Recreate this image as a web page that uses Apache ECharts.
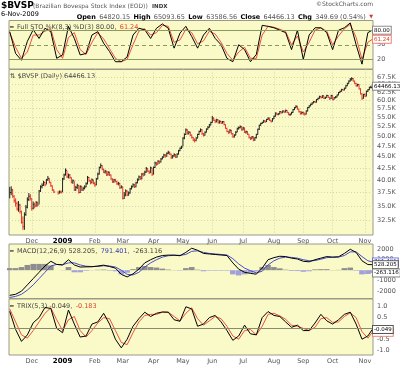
<!DOCTYPE html>
<html><head><meta charset="utf-8">
<script src="https://cdn.jsdelivr.net/npm/echarts@6/dist/echarts.min.js"></script>
<style>html,body{margin:0;padding:0;background:#fff}#c{width:400px;height:365px}</style>
</head><body><div id="c"></div>
<script>
const N = 248;
const monthIdx = [15,36,58,77,98,118,138,159,180,200,220,242];
const monthLabels = ['Dec','2009','Feb','Mar','Apr','May','Jun','Jul','Aug','Sep','Oct','Nov'];
const priceTicks = [32.5,35,37.5,40,42.5,45,47.5,50,52.5,55,57.5,60,62.5,65,67.5];
const closeK = [
37.5,38.0,36.8,36.0,35.5,34.5,35.2,34.0,32.2,31.5,33.5,34.8,36.2,36.8,36.4,
34.6,35.3,35.0,35.6,35.2,37.8,38.6,38.9,39.5,39.0,40.0,40.3,39.5,38.8,38.0,37.6,null,null,37.4,37.6,37.55,
40.2,41.0,42.0,40.6,41.0,40.5,39.5,39.8,38.0,38.5,38.9,37.5,38.7,38.0,38.3,38.6,39.2,40.5,39.8,39.4,40.0,39.3,
39.0,40.2,41.2,42.6,43.0,42.2,41.6,41.8,41.0,41.6,41.0,40.2,39.6,40.0,39.7,39.2,39.3,38.4,38.6,
36.4,37.0,37.8,37.0,37.4,38.2,38.6,39.0,38.6,39.4,40.0,40.6,40.2,41.2,41.0,41.6,42.4,41.8,41.5,42.5,41.2,
42.6,43.6,43.3,44.0,43.8,44.5,44.9,45.4,45.1,45.8,46.0,45.6,44.8,45.2,45.5,44.9,45.6,46.4,47.0,47.3,
49.5,50.4,51.6,50.6,51.0,50.2,49.6,49.0,48.9,49.5,50.4,51.2,51.6,50.6,50.2,51.0,51.8,52.3,52.9,53.6,
54.8,54.2,53.8,54.3,53.5,53.9,53.4,53.8,53.0,52.0,51.2,50.8,51.5,50.6,49.8,50.2,51.0,51.9,52.2,52.5,51.6,
52.1,51.0,51.2,50.5,49.6,49.3,49.8,49.0,49.6,50.4,51.8,52.8,53.3,53.6,54.0,53.8,54.4,54.8,54.2,53.8,54.6,
55.3,56.2,55.8,56.0,56.6,56.3,56.8,56.5,57.0,56.4,55.8,55.9,56.4,57.2,57.8,58.2,57.4,56.6,56.0,56.4,
56.2,55.9,56.8,57.8,58.3,58.8,59.2,59.6,59.4,60.2,60.6,61.2,60.8,61.4,60.6,60.9,61.5,60.9,60.5,61.5,
60.2,60.8,61.0,61.6,62.4,62.8,63.4,63.2,63.8,64.6,65.4,66.2,66.8,67.0,66.2,65.4,64.6,65.0,63.6,62.0,60.6,61.8,
61.3,62.8,63.3,64.1,64.1,64.47];
const highK = [
38.6,38.7,38.2,37.0,36.4,35.8,35.9,35.4,34.2,33.2,33.9,35.2,36.6,37.4,37.2,
36.4,35.8,35.6,35.9,35.8,38.0,38.9,39.3,39.8,39.6,40.2,40.8,40.3,39.6,38.9,38.1,null,null,37.8,37.9,37.9,
40.4,41.3,42.4,41.9,41.3,41.2,40.5,40.1,39.7,38.8,39.2,38.9,38.9,38.8,38.6,38.9,39.5,40.8,40.6,40.0,40.3,40.0,
39.6,40.4,41.5,42.8,43.5,43.1,42.4,42.1,41.9,41.8,41.7,41.1,40.3,40.2,40.2,39.8,39.6,39.4,38.9,
38.6,37.6,38.1,37.9,37.7,38.4,38.9,39.3,39.2,39.6,40.3,40.9,40.8,41.4,41.5,41.9,42.7,42.5,42.0,42.8,42.5,
42.8,43.9,43.8,44.2,44.1,44.7,45.1,45.7,45.6,46.0,46.4,46.2,45.7,45.4,45.8,45.6,45.8,46.6,47.2,47.6,
49.7,50.7,52.0,51.8,51.3,51.1,50.4,49.8,49.4,49.7,50.6,51.4,52.0,51.8,50.8,51.2,52.0,52.6,53.2,53.8,
55.4,55.0,54.4,54.6,54.4,54.2,54.0,54.0,53.9,53.1,52.2,51.4,51.8,51.6,50.8,50.5,51.3,52.2,52.5,52.8,52.6,
52.4,52.2,51.4,51.2,50.5,49.8,50.0,49.9,49.7,50.6,51.9,53.0,53.5,53.8,54.3,54.2,54.6,55.0,54.9,54.3,54.8,
55.5,56.4,56.3,56.2,56.8,56.7,57.0,56.9,57.2,57.0,56.5,56.1,56.6,57.4,58.0,58.5,58.3,57.5,56.8,56.7,
56.6,56.3,57.0,58.0,58.5,59.0,59.4,59.8,59.8,60.4,60.8,61.4,61.3,61.6,61.4,61.1,61.7,61.6,61.0,61.7,
61.5,61.0,61.3,61.8,62.6,63.0,63.6,63.6,64.0,64.8,65.6,66.4,67.2,67.5,67.2,66.3,65.6,65.3,65.1,63.8,62.2,62.0,
62.2,63.0,63.5,64.3,64.6,65.09];
const lowK = [
36.4,37.0,36.5,35.6,34.9,34.2,34.0,33.7,32.0,31.0,31.0,33.3,34.6,35.9,36.0,
34.2,34.4,34.6,34.9,34.9,35.3,37.6,38.3,38.8,38.7,39.1,39.8,39.3,38.6,37.8,37.4,null,null,37.1,37.3,37.3,
37.6,40.0,40.9,40.4,40.3,40.2,39.3,39.2,37.8,37.8,38.2,37.3,37.4,37.8,37.8,38.1,38.5,39.1,39.6,39.1,39.3,39.1,
38.6,38.9,40.1,41.1,42.4,42.0,41.4,41.3,40.8,40.9,40.8,40.0,39.4,39.4,39.5,39.0,38.9,38.2,38.3,
36.2,36.3,36.8,36.8,36.9,37.3,38.1,38.5,38.4,38.5,39.3,39.9,40.0,40.1,40.7,40.9,41.5,41.6,41.2,41.4,40.8,
41.1,42.5,43.0,43.3,43.4,43.7,44.4,44.8,44.8,45.0,45.6,45.4,44.5,44.6,45.0,44.7,44.8,45.5,46.3,46.8,
47.5,49.2,50.3,50.4,50.4,50.0,49.4,48.7,48.4,48.7,49.4,50.3,51.0,50.3,49.9,50.1,50.9,51.7,52.2,52.8,
53.5,54.0,53.4,53.6,53.3,53.3,53.2,53.3,52.8,51.9,51.0,50.6,50.8,50.4,49.6,49.6,50.2,51.0,51.7,52.0,51.4,
51.5,50.8,50.6,50.3,49.4,49.0,49.2,48.7,48.8,49.4,50.4,51.6,52.7,53.2,53.5,53.5,53.7,54.3,54.0,53.6,53.8,
54.5,55.2,55.6,55.6,55.9,56.1,56.2,56.3,56.4,56.2,55.6,55.4,55.8,56.3,57.1,57.6,57.2,56.4,55.8,55.9,
55.7,55.5,55.8,56.7,57.7,58.2,58.6,59.1,59.2,59.3,60.1,60.5,60.6,60.7,60.4,60.4,60.8,60.8,60.1,60.4,
60.0,60.2,60.6,60.9,61.6,62.3,62.7,63.0,63.1,63.7,64.5,65.3,66.0,66.3,66.0,65.2,64.3,64.4,63.4,61.8,60.1,60.5,
61.0,61.2,62.6,63.2,63.8,63.59];

const indIdx = [0,4,8,12,16,20,24,28,32,36,40,44,48,52,56,60,64,68,72,76,80,84,88,92,96,100,104,108,112,116,120,124,128,132,136,140,144,148,152,156,160,164,168,172,176,180,184,188,192,196,200,204,208,212,216,220,224,228,232,236,240,244,247];
const stoK = [77,32,18,57,81,63,84,77,22,29,88,63,29,32,70,77,53,36,15,15,25,70,84,81,63,84,93,84,43,74,88,67,43,70,84,63,50,22,15,50,40,15,30,90,88,85,80,75,40,80,20,70,85,85,75,40,80,85,95,50,10,75,80];
const stoD = [75,45,22,35,70,70,78,82,40,22,65,75,40,30,55,75,62,42,22,15,20,50,78,83,70,75,90,88,55,60,82,75,52,58,78,72,55,32,18,35,45,22,22,70,88,86,82,77,50,68,35,55,80,85,78,50,68,83,92,65,20,55,61.24];
const macdLine = [-2400,-2300,-2000,-1400,-800,-200,400,850,550,500,1000,500,300,320,330,400,480,350,200,-400,-640,-350,100,700,1000,1250,1400,1440,1440,1380,1700,2100,1900,1600,1550,1500,1450,1400,700,100,-200,-300,-380,200,1000,1200,1330,1300,1150,1070,850,800,1000,1150,1300,1250,1280,1600,2000,1700,900,540,528.205];
const macdSignal = [-2600,-2500,-2300,-1900,-1400,-800,-200,400,550,520,700,700,500,380,350,360,420,400,300,0,-400,-450,-200,300,700,1000,1250,1380,1420,1420,1500,1800,1850,1700,1600,1550,1500,1450,1100,600,200,-50,-250,-100,500,900,1150,1250,1220,1150,1000,900,920,1050,1200,1230,1250,1400,1750,1750,1300,900,791.401];
const macdHist = [200,200,300,500,600,600,600,450,0,-20,300,-200,-200,-60,-20,40,60,-50,-100,-400,-240,100,300,400,300,250,150,60,20,-40,200,300,50,-100,-50,-50,-50,-50,-400,-500,-400,-250,-130,300,500,300,180,50,-70,-80,-150,-100,80,100,100,20,30,200,250,-50,-400,-360,-263.116];
const trixLine = [0.79,-0.05,-0.6,-0.3,0.26,0.5,0.97,0.92,0.0,-0.2,0.85,0.2,-0.4,-0.35,0.2,0.3,0.7,0.2,-0.5,-0.9,-0.5,0.1,0.45,0.75,0.55,0.7,0.76,0.75,0.4,0.33,1.0,0.9,0.1,0.2,0.5,0.6,0.3,-0.1,-0.55,-0.35,0.15,-0.25,-0.3,0.5,0.78,0.6,0.55,0.3,0.05,0.15,-0.1,-0.1,0.25,0.65,0.35,0.2,0.4,0.65,0.75,0.2,-0.5,-0.35,-0.049];
const trixSignal = [0.9,0.3,-0.3,-0.45,-0.1,0.3,0.7,0.95,0.4,-0.1,0.4,0.55,-0.1,-0.4,-0.1,0.25,0.5,0.45,-0.1,-0.65,-0.75,-0.2,0.3,0.6,0.65,0.65,0.75,0.75,0.55,0.35,0.7,0.95,0.45,0.15,0.35,0.55,0.45,0.1,-0.35,-0.5,-0.1,-0.05,-0.3,0.1,0.65,0.7,0.58,0.42,0.15,0.1,0.0,-0.1,0.05,0.45,0.5,0.28,0.3,0.55,0.72,0.5,-0.15,-0.45,-0.183];
// last-value boxes on the right axes: [yAxisIndex, value, text, textColor, borderColor]
const valueBoxes = [
  [0, 80, '80.00', '#000', '#888'],
  [0, 61.24, '61.24', '#e0402c', '#f08070'],
  [1, 64.466, '64466.13', '#000', '#888'],
  [2, 791.401, '791.401', '#3a3ac0', '#7070d8'],
  [2, 528.205, '528.205', '#000', '#555'],
  [2, -263.116, '-263.116', '#000', '#888'],
  [3, -0.183, '-0.183', '#e0402c', '#f08070'],
  [3, -0.049, '-0.049', '#000', '#555']
];

const FONT = 'DejaVu Sans';
const BG = '#fafac8';
const BORDER = '#9a9a88';
const GRIDC = '#d6d6a6';
const L = 9, R = 27;

const pairs = arr => indIdx.map((x, j) => [x, arr[j]]);
let prev = null;
const ohlc = closeK.map((c, i) => {
  if (c == null) return [i, null, null, null, 0];
  const up = prev == null || c >= prev ? 1 : 0;
  prev = c;
  return [i, c, highK[i], lowK[i], up];
});

function xAxis(gi, labels, vgrid) {
  return {
    type: 'value', gridIndex: gi, min: -0.5, max: N - 0.5,
    axisLine: { show: false },
    axisTick: { show: false, customValues: monthIdx },
    splitLine: { show: vgrid, lineStyle: { color: GRIDC, type: [1, 2], width: 1 } },
    axisLabel: {
      show: labels, customValues: monthIdx, margin: 3, fontSize: 6.5, fontFamily: FONT, color: '#555',
      formatter: v => { const t = monthLabels[monthIdx.indexOf(v)]; return t === '2009' ? '{y|2009}' : t; },
      rich: { y: { fontWeight: 'bold', color: '#000', fontSize: 7, fontFamily: FONT } }
    }
  };
}
function yBase(gi, extra) {
  return Object.assign({
    gridIndex: gi, position: 'right', axisLine: { show: false }, axisTick: { show: false },
    splitLine: { show: false }
  }, extra);
}
const axLabel = (vals, fmt) => ({ customValues: vals, margin: 4, fontSize: 6.5, fontFamily: FONT, color: '#555', formatter: fmt });

const baseGraphic = [
  { type: 'text', left: 1, top: 1, style: { text: '$BVSP', font: 'bold 9px "DejaVu Sans"', fill: '#000' } },
  { type: 'text', left: 33, top: 3, style: { text: '(Brazilian Bovespa Stock Index (EOD))', font: '6px "DejaVu Sans"', fill: '#555' } },
  { type: 'text', left: 152, top: 3.5, style: { text: 'INDX', font: 'bold 5.5px "DejaVu Sans"', fill: '#333' } },
  { type: 'text', right: 27, top: 1.5, style: { text: '©StockCharts.com', font: '6px "DejaVu Sans"', fill: '#555' } },
  { type: 'text', left: 1, top: 11, style: { text: '6-Nov-2009', font: '6.5px "DejaVu Sans"', fill: '#000' } },
  { type: 'text', right: 27, top: 11, style: {
    text: '{b|Open} {n|64820.15} {b|High} {n|65093.65} {b|Low} {n|63586.56} {b|Close} {n|64466.13} {b|Chg} {n|349.69 (0.54%)} {r|▼}',
    rich: { b: { font: 'bold 6.5px "DejaVu Sans"', fill: '#000' }, n: { font: '6.5px "DejaVu Sans"', fill: '#555' }, r: { font: '5px "DejaVu Sans"', fill: '#e0302a' } } } },
  { type: 'text', left: 10, top: 21.5, style: {
    text: '{k|━} {t|Full STO %K(8,3) %D(3) 80.00,} {r|61.24}',
    rich: { k: { font: 'bold 6px "DejaVu Sans"', fill: '#000' }, t: { font: '6.5px "DejaVu Sans"', fill: '#444' }, r: { font: '6.5px "DejaVu Sans"', fill: '#e0402c' } } } },
  { type: 'text', left: 10, top: 73, style: { text: '⇅ $BVSP (Daily) 64466.13', font: '6.5px "DejaVu Sans"', fill: '#444' } },
  { type: 'text', left: 10, top: 245, style: {
    text: '{k|━} {t|MACD(12,26,9) 528.205,} {b|791.401,} {t|-263.116}',
    rich: { k: { font: 'bold 6px "DejaVu Sans"', fill: '#000' }, t: { font: '6.5px "DejaVu Sans"', fill: '#444' }, b: { font: '6.5px "DejaVu Sans"', fill: '#3a3ac0' } } } },
  { type: 'text', left: 10, top: 300.5, style: {
    text: '{k|━} {t|TRIX(5,3) -0.049,} {r|-0.183}',
    rich: { k: { font: 'bold 6px "DejaVu Sans"', fill: '#000' }, t: { font: '6.5px "DejaVu Sans"', fill: '#444' }, r: { font: '6.5px "DejaVu Sans"', fill: '#e0402c' } } } }
];

const lvl = (v, type) => ({ yAxis: v, lineStyle: { color: '#8c9a60', width: 1, type: type }, label: { show: false } });

const option = {
  animation: false,
  backgroundColor: '#fff',
  grid: [
    { left: L, right: R, top: 20.5, height: 48.5, show: true, backgroundColor: BG, borderColor: BORDER, borderWidth: 1 },
    { left: L, right: R, top: 69.5, height: 165.5, show: true, backgroundColor: BG, borderColor: BORDER, borderWidth: 1 },
    { left: L, right: R, top: 244, height: 54.5, show: true, backgroundColor: BG, borderColor: BORDER, borderWidth: 1 },
    { left: L, right: R, top: 299, height: 57, show: true, backgroundColor: BG, borderColor: BORDER, borderWidth: 1 }
  ],
  xAxis: [xAxis(0, false, false), xAxis(1, true, true), xAxis(2, false, false), xAxis(3, true, false)],
  yAxis: [
    yBase(0, { type: 'value', min: 0, max: 100, axisLabel: axLabel([20, 50], v => String(v)) }),
    yBase(1, { type: 'log', logBase: 10, min: 30.2, max: 70.2,
      axisLabel: axLabel(priceTicks, v => v.toFixed(1) + 'K'),
      axisTick: { show: false, customValues: priceTicks },
      splitLine: { show: true, lineStyle: { color: GRIDC, type: [1, 2], width: 1 } } }),
    yBase(2, { type: 'value', min: -2700, max: 2500, axisLabel: axLabel([-2000, -1000, 1000, 2000], v => String(v)) }),
    yBase(3, { type: 'value', min: -1.23, max: 1.36, axisLabel: axLabel([-1, -0.5, 0.5, 1], v => v.toFixed(1)) })
  ],
  series: [
    { type: 'line', xAxisIndex: 0, yAxisIndex: 0, data: pairs(stoD), symbol: 'none',
      lineStyle: { color: '#f0503c', width: 1 } },
    { type: 'line', xAxisIndex: 0, yAxisIndex: 0, data: pairs(stoK), symbol: 'none', z: 3,
      lineStyle: { color: '#000', width: 1 },
      markLine: { silent: true, symbol: 'none', animation: false, data: [lvl(20, 'solid'), lvl(50, [4, 3]), lvl(80, 'solid')] } },
    { type: 'custom', xAxisIndex: 1, yAxisIndex: 1, data: ohlc,
      encode: { x: 0, y: [1, 2, 3] },
      renderItem: (params, api) => {
        const c = api.value(1);
        if (c == null || isNaN(c)) return null;
        const pH = api.coord([api.value(0), api.value(2)]);
        const pL = api.coord([api.value(0), api.value(3)]);
        const pC = api.coord([api.value(0), c]);
        const col = api.value(4) ? '#222' : '#e8352a';
        return { type: 'group', children: [
          { type: 'line', shape: { x1: pH[0], y1: pH[1], x2: pL[0], y2: pL[1] }, style: { stroke: col, lineWidth: 1 } },
          { type: 'line', shape: { x1: pC[0], y1: pC[1], x2: pC[0] + 1.5, y2: pC[1] }, style: { stroke: col, lineWidth: 1 } }
        ] };
      } },
    { type: 'bar', xAxisIndex: 2, yAxisIndex: 2, data: pairs(macdHist), barWidth: 5.6,
      itemStyle: { color: p => p.value[1] >= 0 ? '#8e8e8e' : '#a0a0dc' } },
    { type: 'line', xAxisIndex: 2, yAxisIndex: 2, data: pairs(macdSignal), symbol: 'none',
      lineStyle: { color: '#4a4ad0', width: 1 } },
    { type: 'line', xAxisIndex: 2, yAxisIndex: 2, data: pairs(macdLine), symbol: 'none',
      lineStyle: { color: '#000', width: 1 } },
    { type: 'line', xAxisIndex: 3, yAxisIndex: 3, data: pairs(trixSignal), symbol: 'none',
      lineStyle: { color: '#f0503c', width: 1 } },
    { type: 'line', xAxisIndex: 3, yAxisIndex: 3, data: pairs(trixLine), symbol: 'none', z: 3,
      lineStyle: { color: '#000', width: 1 },
      markLine: { silent: true, symbol: 'none', animation: false, data: [
        { yAxis: 0, lineStyle: { color: '#8a8a70', width: 1, type: 'solid' }, label: { show: false } } ] } }
  ],
  graphic: baseGraphic
};
const chart = echarts.init(document.getElementById('c'), null, { renderer: 'canvas' });
chart.setOption(option);

// value boxes placed via the axes' own scales
const boxG = valueBoxes.map(([ai, v, t, col, bc]) => {
  const y = chart.convertToPixel({ yAxisIndex: ai }, v);
  const x = chart.convertToPixel({ xAxisIndex: ai }, N - 0.5);
  return { type: 'text', x: x, y: y, z: 100,
    style: { text: t, font: '5.5px "DejaVu Sans"', fill: col, verticalAlign: 'middle',
      backgroundColor: '#fff', borderColor: bc, borderWidth: 1, padding: [1, 1, 0, 1] } };
});
chart.setOption({ graphic: baseGraphic.concat(boxG) });
</script></body></html>
